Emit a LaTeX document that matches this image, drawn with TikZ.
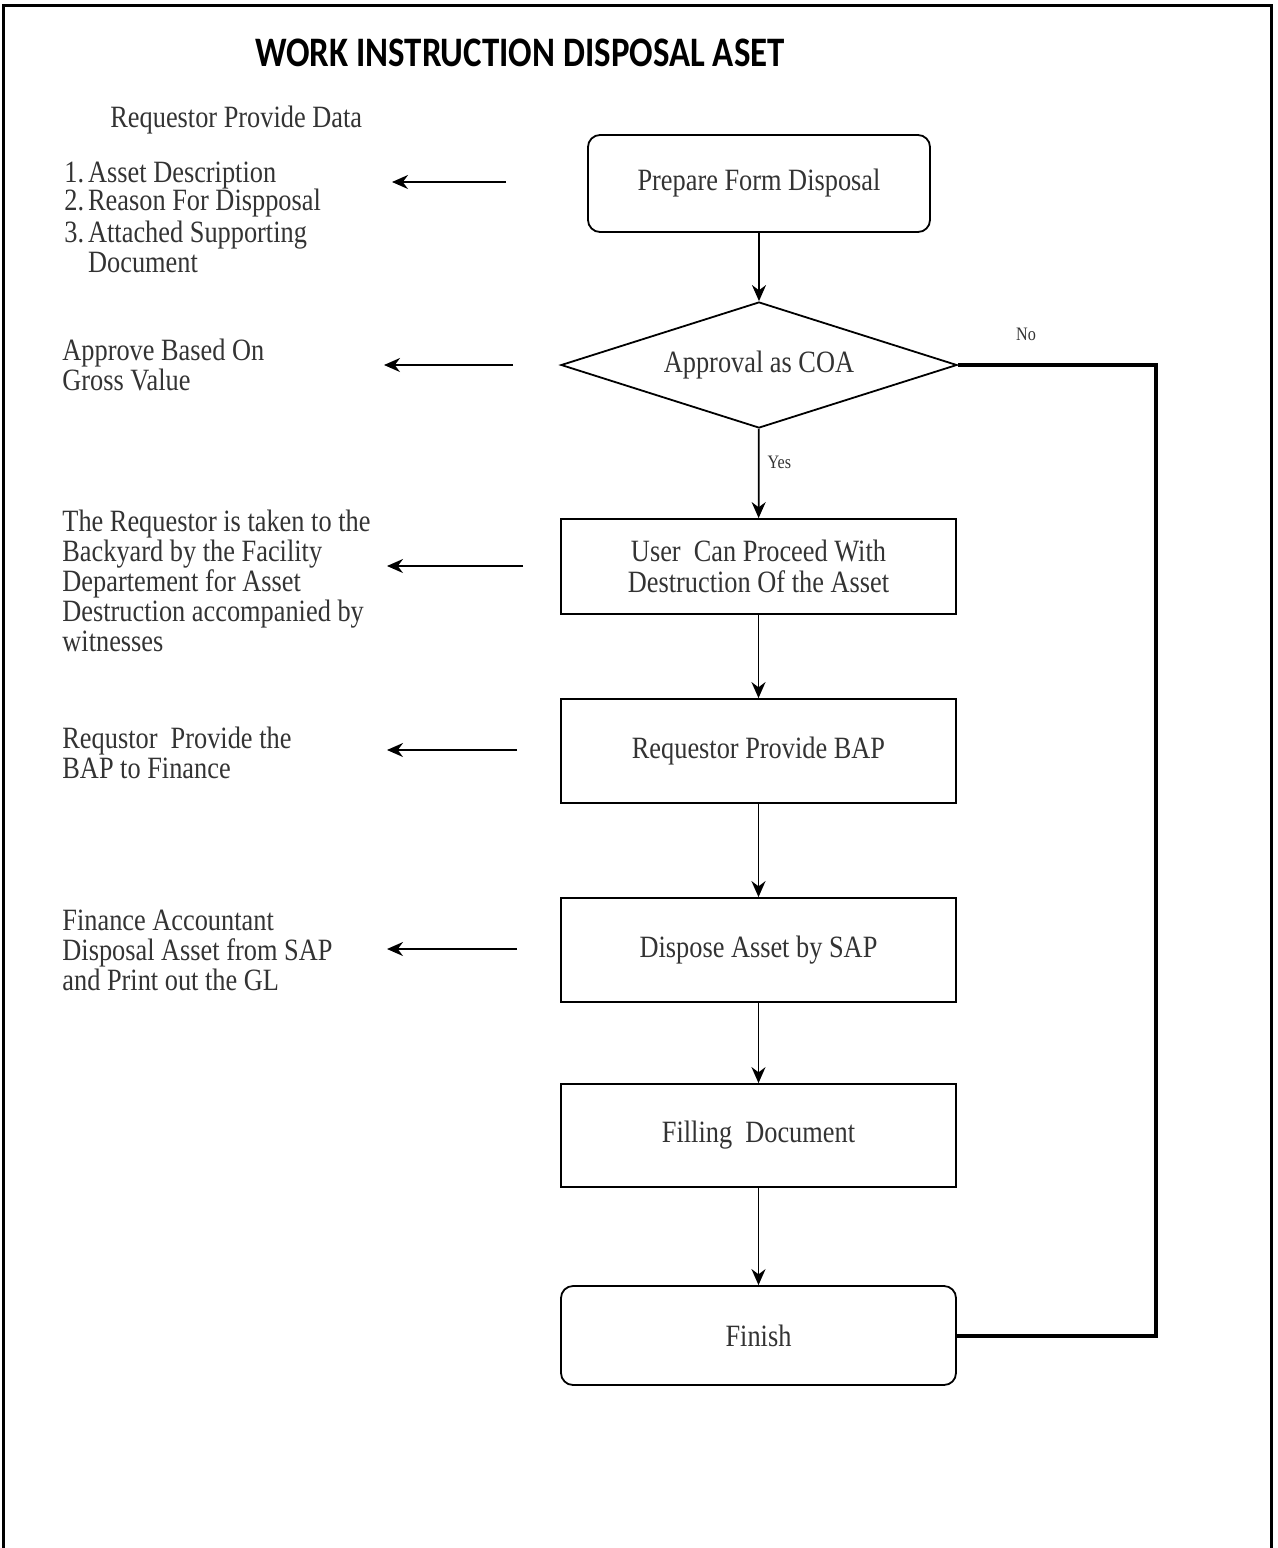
\documentclass[tikz,border=0pt]{standalone}
\usepackage{fontspec}
\setmainfont{Liberation Serif}[FakeStretch=0.85]
\newfontfamily\titlefont{Carlito}[FakeStretch=0.83]
\usetikzlibrary{shapes.geometric,arrows.meta}
\definecolor{txtgray}{HTML}{333333}
\tikzset{
  procbox/.style={draw=black, line width=0.9pt, minimum width=197.5pt, inner sep=0pt, align=center,
    text=txtgray, font=\fontsize{15.5}{15.5}\selectfont},
  roundbox/.style={procbox, rounded corners=6pt},
  decision/.style={draw=black, line width=0.9pt, diamond, aspect=3.14, inner sep=0pt,
    minimum width=198pt, minimum height=63pt, text=txtgray, font=\fontsize{15.5}{15.5}\selectfont},
  sidetext/.style={anchor=west, align=left, inner sep=0pt, text=txtgray,
    font=\fontsize{15.5}{15}\selectfont},
  flow/.style={line width=0.9pt, -{Stealth[length=8pt,width=7pt]}},
  sidearrow/.style={line width=0.9pt, -{Stealth[length=8pt,width=7pt]}},
  smalllabel/.style={inner sep=0pt, text=txtgray, font=\fontsize{9.5}{9.5}\selectfont},
  loopline/.style={line width=2pt},
}
\begin{document}
\begin{tikzpicture}[x=0.5pt, y=-0.5pt]
\useasboundingbox (0,0) rectangle (1278,1548);
% frame
\draw[line width=1.5pt] (3,1548) -- (3,5) -- (1271,5) -- (1271,1548);

% title
\node[inner sep=0pt, font=\titlefont\bfseries\fontsize{21}{21}\selectfont] (title) at (520,53) {WORK INSTRUCTION DISPOSAL ASET};

% main flow
\node[roundbox, minimum width=171pt, minimum height=48.5pt] (prep) at (759,183.5) {Prepare Form Disposal};
\node[decision] (coa) at (759,365) {Approval as COA};
\node[procbox, minimum height=47.5pt] (user) at (758.5,566.5) {User\ \ Can Proceed With\\[0pt]Destruction Of the Asset};
\node[procbox, minimum height=52pt] (bap) at (758.5,751) {Requestor Provide BAP};
\node[procbox, minimum height=52pt] (sap) at (758.5,950) {Dispose Asset by SAP};
\node[procbox, minimum height=51.5pt] (fill) at (758.5,1135.5) {Filling\ \ Document};
\node[roundbox, minimum height=49.5pt] (fin) at (758.5,1335.5) {Finish};

\draw[flow] (prep) -- (coa);
\draw[flow] (coa) -- node[smalllabel, right=4pt, pos=0.37] (yes) {Yes} (user);
\draw[flow] (user) -- (bap);
\draw[flow] (bap) -- (sap);
\draw[flow] (sap) -- (fill);
\draw[flow] (fill) -- (fin);

% No loop
\coordinate (nocorner) at (1156,365);
\draw[loopline] (coa.east) -- (nocorner) |- (fin.east);
\node[smalllabel] (no) at (1026,334) {No};

% side texts
\node[sidetext] (req) at (110,120) {Requestor Provide Data};
\node[sidetext, anchor=north west] (list) at (64,161) {%
  \begin{tabular}{@{}l@{\hspace{2pt}}l@{}}
  1. & Asset Description\\[-1pt]
  2. & Reason For Dispposal\\[0.5pt]
  3. & Attached Supporting\\[0pt]
     & Document
  \end{tabular}};
\node[sidetext] (gross) at (62,365) {Approve Based On\\Gross Value};
\node[sidetext] (backyard) at (62,581) {The Requestor is taken to the\\Backyard by the Facility\\Departement for Asset\\Destruction accompanied by\\witnesses};
\node[sidetext] (finance) at (62,753) {Requstor\ \ Provide the\\BAP to Finance};
\node[sidetext] (gl) at (62,950) {Finance Accountant\\Disposal Asset from SAP\\and Print out the GL};

% side arrows
\coordinate (a1s) at (506,182); \coordinate (a1e) at (392,182);
\coordinate (a2s) at (513,365); \coordinate (a2e) at (384,365);
\coordinate (a3s) at (523,566); \coordinate (a3e) at (387,566);
\coordinate (a4s) at (517,750); \coordinate (a4e) at (387,750);
\coordinate (a5s) at (517,949); \coordinate (a5e) at (387,949);
\draw[sidearrow] (a1s) -- (a1e);
\draw[sidearrow] (a2s) -- (a2e);
\draw[sidearrow] (a3s) -- (a3e);
\draw[sidearrow] (a4s) -- (a4e);
\draw[sidearrow] (a5s) -- (a5e);
\end{tikzpicture}
\end{document}
